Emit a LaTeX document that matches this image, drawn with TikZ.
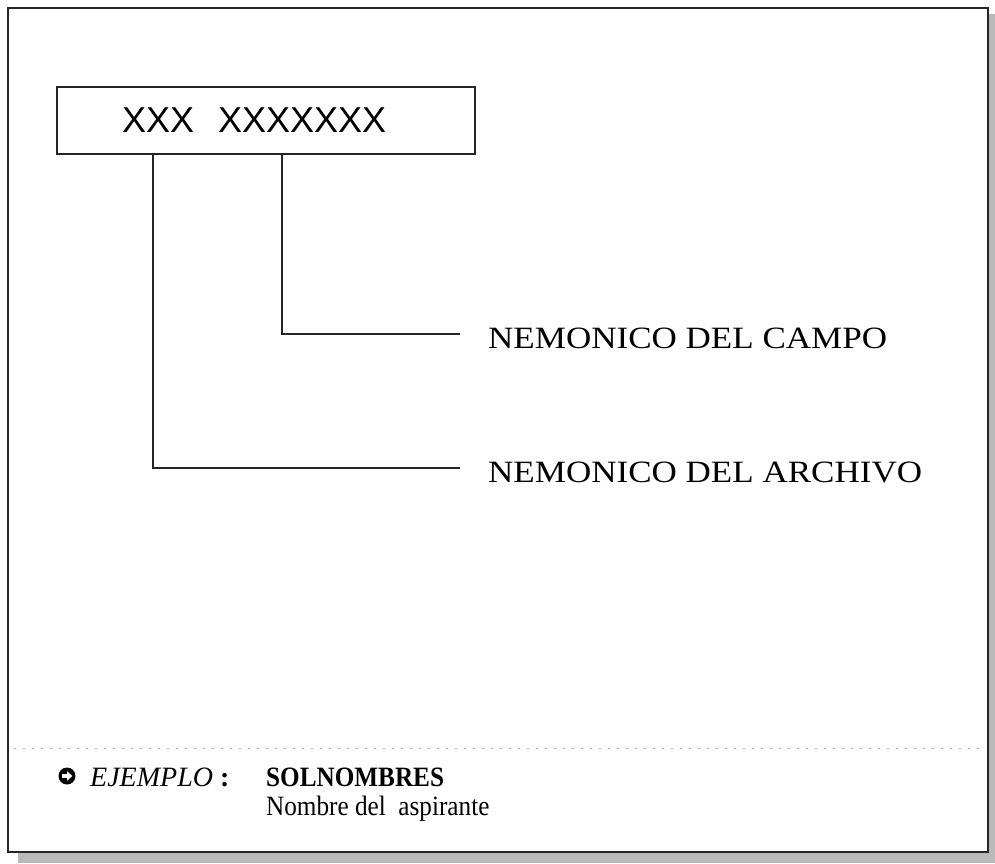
\documentclass[tikz,border=0pt]{standalone}
\usepackage{fontspec}
\setmainfont{Liberation Serif}
\newfontfamily\labelfont[FakeStretch=1.13]{Liberation Serif}
\newfontfamily\notefont[FakeStretch=0.9]{Liberation Serif}
\newfontfamily\codefont{Liberation Sans}
\usetikzlibrary{positioning}

\begin{document}
\begin{tikzpicture}[
    x=1pt, y=-1pt,
    codebox/.style={draw=black!85, line width=1.1pt, rectangle, minimum width=418pt, minimum height=67pt, inner xsep=65pt, text width=288pt, align=left, font=\codefont\fontsize{36}{40}\selectfont},
    label/.style={anchor=west, inner sep=0pt, font=\labelfont\fontsize{31}{36}\selectfont},
    note/.style={anchor=base west, inner sep=0pt, font=\notefont\fontsize{28}{32}\selectfont},
    link/.style={draw=black!85, line width=1.1pt}
]
    \useasboundingbox (0,0) rectangle (995,863);

    % Frame with shadow
    \fill[gray!55] (18,852) rectangle (995,863);
    \fill[gray!55] (988,14) rectangle (995,863);
    \draw[black!85, line width=1.2pt, fill=white] (8,8) rectangle (988,852);

    % Code box and labels
    \node (code) [codebox] at (266,120.5) {XXX\ \ XXXXXXX};
    \node (campo) [label] at (488,338) {NEMONICO DEL CAMPO};
    \node (archivo) [label] at (488,472) {NEMONICO DEL ARCHIVO};

    % Connections
    \draw [link] (code.south -| 282,0) |- ([xshift=-28pt, yshift=4pt]campo.west);
    \draw [link] (code.south -| 153,0) |- ([xshift=-28pt, yshift=4pt]archivo.west);

    % Separator
    \draw[gray!60, line width=0.8pt, dash pattern=on 2pt off 7pt] (14,748) -- (982,748);

    % Example
    \node (icon) [circle, fill=black, minimum size=17pt, inner sep=0pt] at (67,776) {};
    \fill[white, shift={(icon.center)}] (-5,-1.8) -- (0,-1.8) -- (0,-4.8) -- (5.4,0) -- (0,4.8) -- (0,1.8) -- (-5,1.8) -- cycle;
    \node (ejemplo) [note, font=\fontsize{28}{32}\selectfont] at (90,786) {\itshape EJEMPLO\ \textbf{\upshape :}};
    \node (sol) [note] at (266,786) {\textbf{SOLNOMBRES}};
    \node (nombre) [note] at (266,815) {Nombre del\ \ aspirante};
\end{tikzpicture}
\end{document}
